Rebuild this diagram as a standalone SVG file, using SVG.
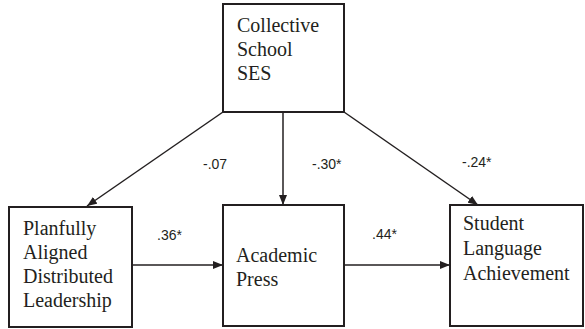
<svg xmlns="http://www.w3.org/2000/svg" width="585" height="329" viewBox="0 0 585 329">
<style>
.box{fill:#fff;stroke:#231f20;stroke-width:2}
.t{font-family:"Liberation Serif",serif;font-size:20px;fill:#231f20}
.l{font-family:"Liberation Sans",Arial,sans-serif;font-size:14px;fill:#231f20}
.c{stroke:#231f20;stroke-width:1.5;fill:none;marker-end:url(#ah)}
</style>
<defs>
<marker id="ah" viewBox="0 0 10 8" refX="10" refY="4" markerWidth="10" markerHeight="8" markerUnits="userSpaceOnUse" orient="auto">
<path d="M0,0 L10,4 L0,8 z" fill="#231f20"/>
</marker>
</defs>
<rect width="585" height="329" fill="#fff"/>
<g id="connectors">
<line class="c" x1="223" y1="112" x2="87" y2="206"/>
<line class="c" x1="283" y1="112" x2="283" y2="205"/>
<line class="c" x1="344" y1="112" x2="478" y2="205"/>
<line class="c" x1="132" y1="265" x2="223" y2="265"/>
<line class="c" x1="344" y1="265" x2="450" y2="265"/>
<text class="l" x="203" y="169">-.07</text>
<text class="l" x="312" y="169">-.30*</text>
<text class="l" x="462" y="167">-.24*</text>
<text class="l" x="157" y="240">.36*</text>
<text class="l" x="372" y="239">.44*</text>
</g>
<g id="ses">
<rect class="box" x="223" y="4" width="121" height="108"/>
<text class="t" x="237" y="32">Collective</text>
<text class="t" x="237" y="56">School</text>
<text class="t" x="237" y="80">SES</text>
</g>
<g id="leadership">
<rect class="box" x="9" y="207" width="123" height="120"/>
<text class="t" x="23" y="235">Planfully</text>
<text class="t" x="23" y="259">Aligned</text>
<text class="t" x="23" y="283">Distributed</text>
<text class="t" x="23" y="307">Leadership</text>
</g>
<g id="press">
<rect class="box" x="223" y="205" width="121" height="121"/>
<text class="t" x="236" y="262">Academic</text>
<text class="t" x="236" y="286">Press</text>
</g>
<g id="achievement">
<rect class="box" x="450" y="205" width="133" height="121"/>
<text class="t" x="463" y="230">Student</text>
<text class="t" x="463" y="255">Language</text>
<text class="t" x="463" y="280">Achievement</text>
</g>
</svg>
